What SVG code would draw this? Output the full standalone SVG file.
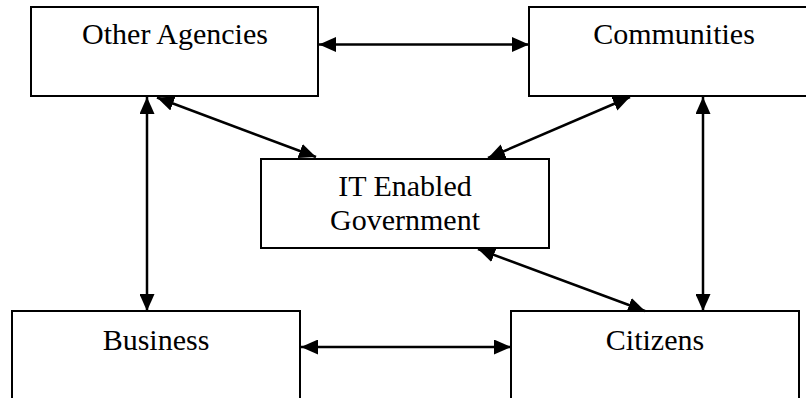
<svg xmlns="http://www.w3.org/2000/svg" width="806" height="398" viewBox="0 0 806 398">
  <style>
    .box { fill: #ffffff; stroke: #000000; stroke-width: 2; }
    .label { font-family: "Liberation Serif", "Times New Roman", serif; font-size: 30px; fill: #000000; text-anchor: middle; }
    .link { stroke: #000000; stroke-width: 2.5; fill: none; marker-start: url(#head); marker-end: url(#head); }
  </style>
  <defs>
    <marker id="head" viewBox="0 0 17 15" refX="17" refY="7.5" markerWidth="17" markerHeight="15" markerUnits="userSpaceOnUse" orient="auto-start-reverse">
      <path d="M0,0 L17,7.5 L0,15 z" fill="#000000"/>
    </marker>
  </defs>
  <rect width="806" height="398" fill="#ffffff"/>

  <g id="other-agencies">
    <rect class="box" x="31" y="7" width="287" height="89"/>
    <text class="label" x="175" y="44">Other Agencies</text>
  </g>

  <g id="communities">
    <rect class="box" x="529" y="7" width="300" height="89"/>
    <text class="label" x="674" y="44">Communities</text>
  </g>

  <g id="it-government">
    <rect class="box" x="261" y="159" width="288" height="89"/>
    <text class="label" x="405" y="196">IT Enabled</text>
    <text class="label" x="405" y="230">Government</text>
  </g>

  <g id="business">
    <rect class="box" x="12" y="311" width="288" height="120"/>
    <text class="label" x="156" y="350">Business</text>
  </g>

  <g id="citizens">
    <rect class="box" x="511" y="311" width="288" height="120"/>
    <text class="label" x="655" y="350">Citizens</text>
  </g>

  <g id="connectors">
    <line class="link" x1="319" y1="44.5" x2="529" y2="44.5"/>
    <line class="link" x1="147" y1="97" x2="147" y2="311"/>
    <line class="link" x1="703" y1="97" x2="703" y2="311"/>
    <line class="link" x1="301" y1="347" x2="511" y2="347"/>
    <line class="link" x1="157" y1="97.5" x2="316" y2="157"/>
    <line class="link" x1="630" y1="97" x2="488" y2="158"/>
    <line class="link" x1="478" y1="249" x2="645" y2="311"/>
  </g>
</svg>
